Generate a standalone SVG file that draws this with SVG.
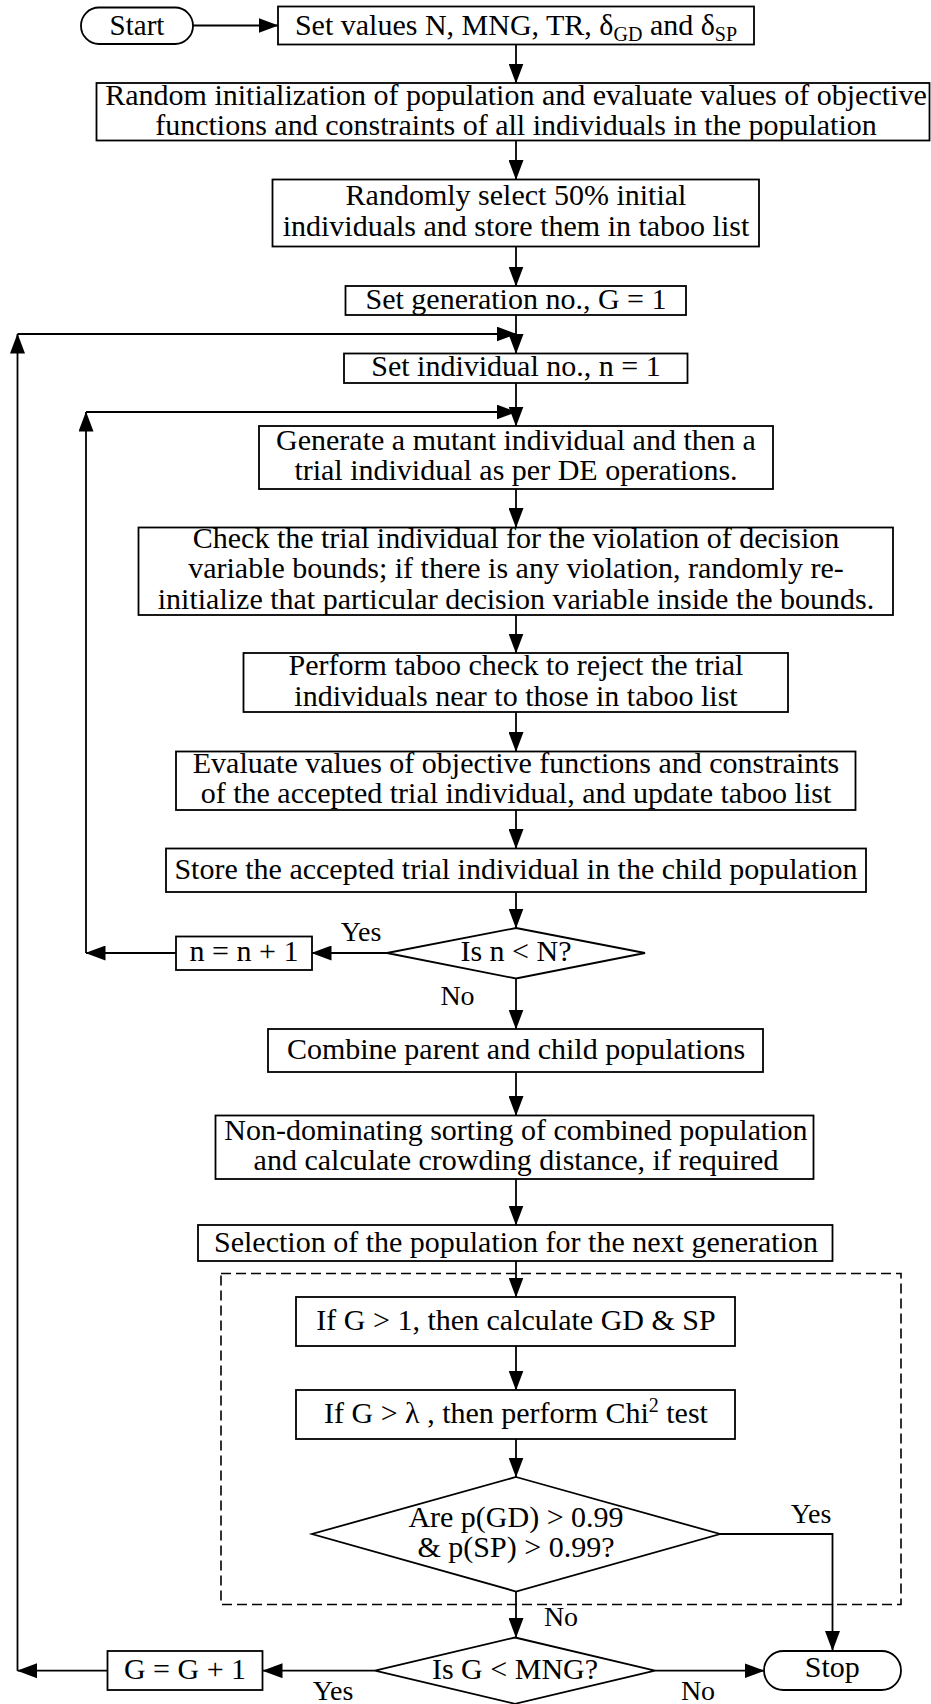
<svg xmlns="http://www.w3.org/2000/svg" width="931" height="1704" viewBox="0 0 931 1704">
  <style>
    .box { fill: #fff; stroke: #000; stroke-width: 1.8; }
    .dash { fill: none; stroke: #000; stroke-width: 1.6; stroke-dasharray: 10 5; }
    .edge { fill: none; stroke: #000; stroke-width: 1.8; }
    text { font-family: "Liberation Serif", "Times New Roman", serif; font-size: 30px; fill: #000; text-anchor: middle; }
    .lbl { font-size: 28px; }
    .sub { font-size: 20px; }
  </style>
  <defs>
    <marker id="arrow" markerUnits="userSpaceOnUse" markerWidth="20" markerHeight="15" refX="19.5" refY="7.5" orient="auto">
      <path d="M0,0 L20,7.5 L0,15 z" fill="#000"/>
    </marker>
  </defs>
  <rect width="931" height="1704" fill="#fff"/>

  <!-- convergence-check region -->
  <rect class="dash" x="221" y="1273.5" width="680" height="331"/>

  <!-- connectors -->
  <g id="connectors">
    <path class="edge" d="M193,25.5 H278" marker-end="url(#arrow)"/>
    <path class="edge" d="M516,44.5 V83" marker-end="url(#arrow)"/>
    <path class="edge" d="M516,140.5 V179.5" marker-end="url(#arrow)"/>
    <path class="edge" d="M516,246.5 V286" marker-end="url(#arrow)"/>
    <path class="edge" d="M516,315 V353.5" marker-end="url(#arrow)"/>
    <path class="edge" d="M516,383 V426" marker-end="url(#arrow)"/>
    <path class="edge" d="M516,489 V527.5" marker-end="url(#arrow)"/>
    <path class="edge" d="M516,615 V653" marker-end="url(#arrow)"/>
    <path class="edge" d="M516,712 V751.5" marker-end="url(#arrow)"/>
    <path class="edge" d="M516,810 V848.5" marker-end="url(#arrow)"/>
    <path class="edge" d="M516,892 V928" marker-end="url(#arrow)"/>
    <!-- inner loop: next individual -->
    <path class="edge" d="M387,953 H312" marker-end="url(#arrow)"/>
    <path class="edge" d="M176,953 H86" marker-end="url(#arrow)"/>
    <path class="edge" d="M86,953 V412" marker-end="url(#arrow)"/>
    <path class="edge" d="M86,412 H516" marker-end="url(#arrow)"/>
    <path class="edge" d="M516,978.5 V1029" marker-end="url(#arrow)"/>
    <path class="edge" d="M516,1072 V1115.5" marker-end="url(#arrow)"/>
    <path class="edge" d="M516,1179 V1225" marker-end="url(#arrow)"/>
    <path class="edge" d="M516,1261 V1297" marker-end="url(#arrow)"/>
    <path class="edge" d="M516,1346 V1390" marker-end="url(#arrow)"/>
    <path class="edge" d="M516,1439 V1477" marker-end="url(#arrow)"/>
    <path class="edge" d="M720,1534 H832.5 V1650.5" marker-end="url(#arrow)"/>
    <path class="edge" d="M516,1591.5 V1637.5" marker-end="url(#arrow)"/>
    <!-- outer loop: next generation -->
    <path class="edge" d="M375,1670.7 H263" marker-end="url(#arrow)"/>
    <path class="edge" d="M107.5,1670.7 H17.5" marker-end="url(#arrow)"/>
    <path class="edge" d="M17.5,1670.7 V334" marker-end="url(#arrow)"/>
    <path class="edge" d="M17.5,334 H516" marker-end="url(#arrow)"/>
    <path class="edge" d="M655,1670.7 H764" marker-end="url(#arrow)"/>
    <!-- branch labels -->
    <text class="lbl" x="361" y="941">Yes</text>
    <text class="lbl" x="457.5" y="1005">No</text>
    <text class="lbl" x="811" y="1522.5">Yes</text>
    <text class="lbl" x="561" y="1625.5">No</text>
    <text class="lbl" x="333" y="1700">Yes</text>
    <text class="lbl" x="698" y="1700">No</text>
  </g>

  <g id="start">
    <rect class="box" x="81" y="7.5" width="112" height="36.5" rx="18" ry="18"/>
    <text x="137" y="34.5" style="font-size:29px">Start</text>
  </g>

  <g id="set-values">
    <rect class="box" x="278" y="6.5" width="476" height="38"/>
    <text x="516" y="35">Set values N, MNG, TR, δ<tspan class="sub" dy="6">GD</tspan><tspan dy="-6"> and δ</tspan><tspan class="sub" dy="6">SP</tspan></text>
  </g>

  <g id="init-population">
    <rect class="box" x="96.5" y="83" width="833" height="57.5"/>
    <text x="516" y="104.5">Random initialization of population and evaluate values of objective</text>
    <text x="516" y="134.5">functions and constraints of all individuals in the population</text>
  </g>

  <g id="taboo-init">
    <rect class="box" x="272.5" y="179.5" width="486.5" height="67"/>
    <text x="516" y="205">Randomly select 50% initial</text>
    <text x="516" y="235.5">individuals and store them in taboo list</text>
  </g>

  <g id="set-generation">
    <rect class="box" x="345.5" y="286" width="340.5" height="29"/>
    <text x="516" y="309">Set generation no., G = 1</text>
  </g>

  <g id="set-individual">
    <rect class="box" x="344" y="353.5" width="343.5" height="29.5"/>
    <text x="516" y="376">Set individual no., n = 1</text>
  </g>

  <g id="mutation">
    <rect class="box" x="259" y="426" width="514" height="63"/>
    <text x="516" y="450">Generate a mutant individual and then a</text>
    <text x="516" y="480">trial individual as per DE operations.</text>
  </g>

  <g id="bounds-check">
    <rect class="box" x="138.5" y="527.5" width="754.5" height="87.5"/>
    <text x="516" y="547.5">Check the trial individual for the violation of decision</text>
    <text x="516" y="578">variable bounds; if there is any violation, randomly re-</text>
    <text x="516" y="608.5">initialize that particular decision variable inside the bounds.</text>
  </g>

  <g id="taboo-check">
    <rect class="box" x="243.5" y="653" width="544.5" height="59"/>
    <text x="516" y="675">Perform taboo check to reject the trial</text>
    <text x="516" y="705.5">individuals near to those in taboo list</text>
  </g>

  <g id="evaluate-trial">
    <rect class="box" x="176" y="751.5" width="679.5" height="58.5"/>
    <text x="516" y="773.3">Evaluate values of objective functions and constraints</text>
    <text x="516" y="803.3">of the accepted trial individual, and update taboo list</text>
  </g>

  <g id="store-child">
    <rect class="box" x="166" y="848.5" width="700" height="43.5"/>
    <text x="516" y="878.5">Store the accepted trial individual in the child population</text>
  </g>

  <g id="check-n">
    <polygon class="box" points="516,928 645,953 516,978.5 387,953"/>
    <text x="516" y="961">Is n &lt; N?</text>
  </g>

  <g id="next-individual">
    <rect class="box" x="176" y="936.5" width="136" height="33.5"/>
    <text x="244" y="961">n = n + 1</text>
  </g>

  <g id="combine">
    <rect class="box" x="268" y="1029" width="495" height="43"/>
    <text x="516" y="1058.5">Combine parent and child populations</text>
  </g>

  <g id="sorting">
    <rect class="box" x="215.5" y="1115.5" width="598" height="63.5"/>
    <text x="516" y="1139.5">Non-dominating sorting of combined population</text>
    <text x="516" y="1170">and calculate crowding distance, if required</text>
  </g>

  <g id="selection">
    <rect class="box" x="198" y="1225" width="634.5" height="36"/>
    <text x="516" y="1251.5">Selection of the population for the next generation</text>
  </g>

  <g id="gd-sp">
    <rect class="box" x="296" y="1297" width="439" height="49"/>
    <text x="516" y="1330">If G &gt; 1, then calculate GD &amp; SP</text>
  </g>

  <g id="chi-test">
    <rect class="box" x="296" y="1390" width="439" height="49"/>
    <text x="516" y="1422.5">If G &gt; λ , then perform Chi<tspan class="sub" dy="-11">2</tspan><tspan dy="11"> test</tspan></text>
  </g>

  <g id="check-p">
    <polygon class="box" points="516,1477 720,1534 516,1591.5 312,1534"/>
    <text x="516" y="1527">Are p(GD) &gt; 0.99</text>
    <text x="516" y="1557">&amp; p(SP) &gt; 0.99?</text>
  </g>

  <g id="check-g">
    <polygon class="box" points="515,1637.5 655,1670.7 515,1703.8 375,1670.7"/>
    <text x="515" y="1678.5">Is G &lt; MNG?</text>
  </g>

  <g id="next-generation">
    <rect class="box" x="107.5" y="1651" width="155" height="39"/>
    <text x="185" y="1678.5">G = G + 1</text>
  </g>

  <g id="stop">
    <rect class="box" x="764" y="1651" width="137" height="39" rx="19.5" ry="19.5"/>
    <text x="832.3" y="1677">Stop</text>
  </g>
</svg>
